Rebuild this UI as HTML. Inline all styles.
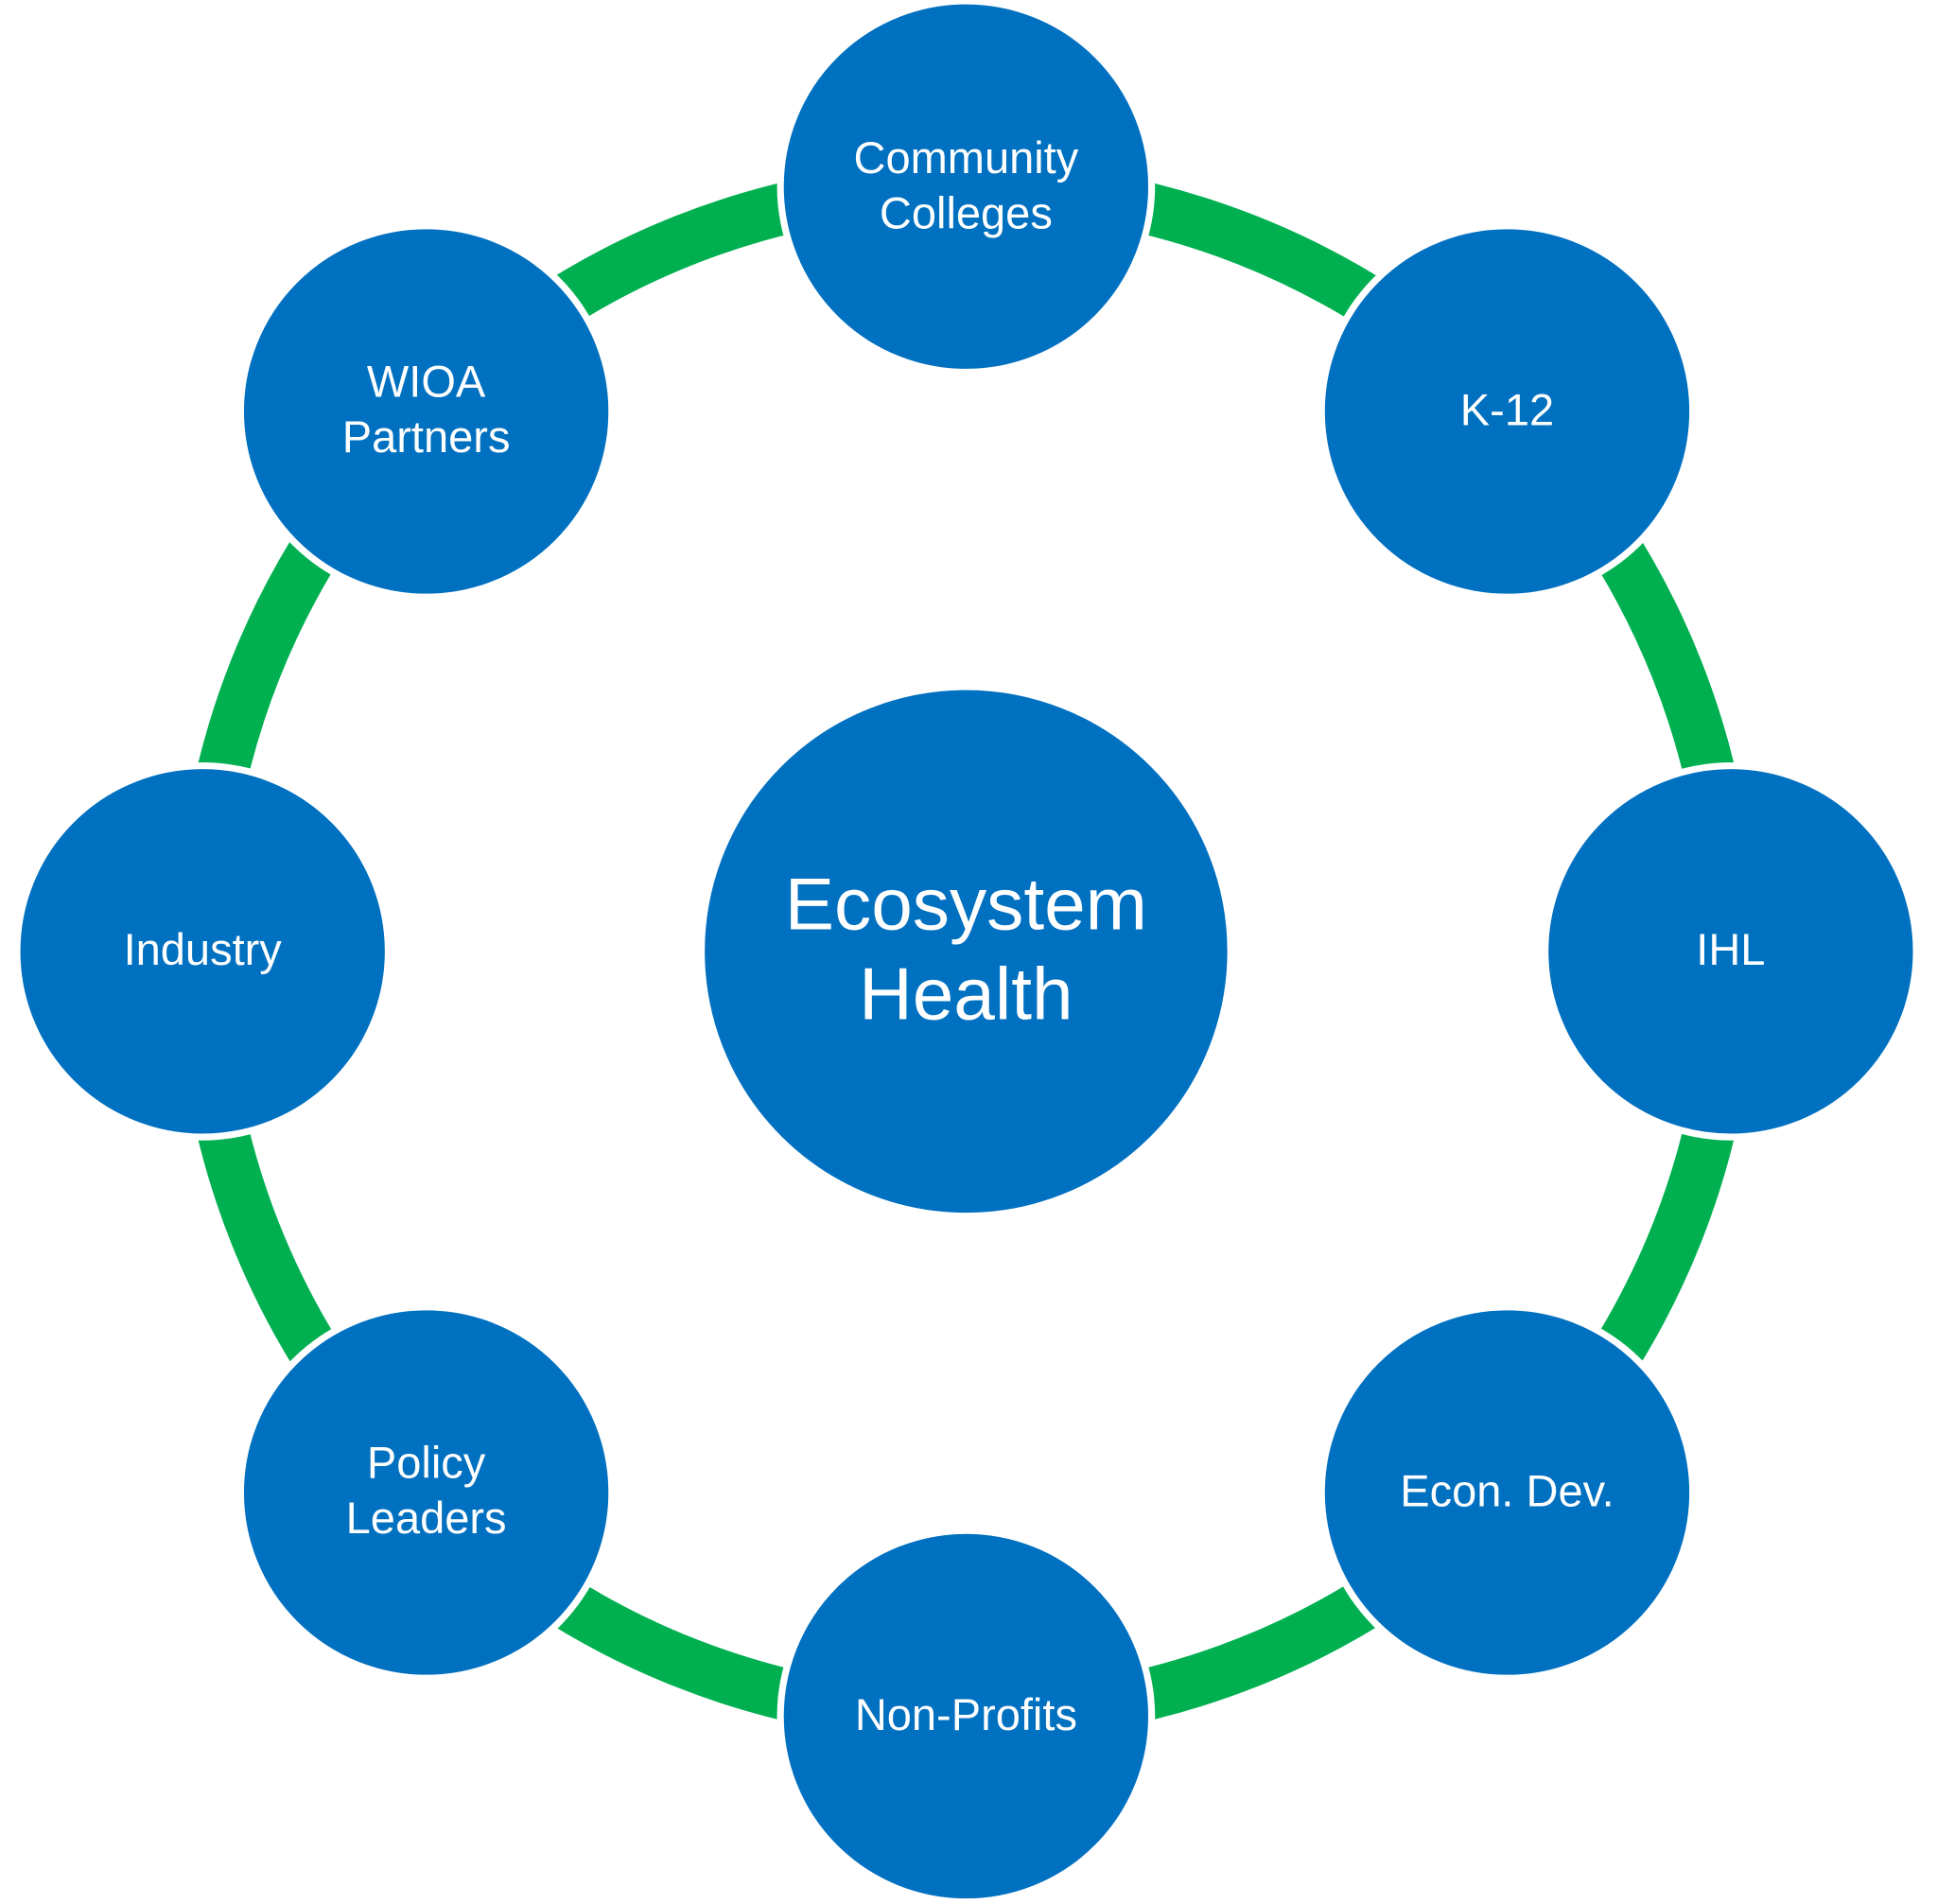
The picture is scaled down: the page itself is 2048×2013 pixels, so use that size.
<!DOCTYPE html>
<html><head><meta charset="utf-8"><style>
html,body{margin:0;padding:0;background:#fff;}
svg{display:block;}
text{font-family:"Liberation Sans",sans-serif;fill:#fff;text-anchor:middle;}
</style></head><body>
<svg width="2048" height="2013" viewBox="0 0 1568 1541" preserveAspectRatio="none">
<circle cx="782" cy="770" r="619" fill="none" stroke="#00B050" stroke-width="42"/>
<g fill="#fff">
<circle cx="782" cy="151" r="153"/>
<circle cx="1220" cy="333" r="153"/>
<circle cx="1401" cy="770" r="153"/>
<circle cx="1220" cy="1208" r="153"/>
<circle cx="782" cy="1389" r="153"/>
<circle cx="345" cy="1208" r="153"/>
<circle cx="164" cy="770" r="153"/>
<circle cx="345" cy="333" r="153"/>
</g>
<g fill="#0070C0" stroke="#fff" stroke-width="3">
<circle cx="782" cy="770" r="213"/>
<circle cx="782" cy="151" r="149"/>
<circle cx="1220" cy="333" r="149"/>
<circle cx="1401" cy="770" r="149"/>
<circle cx="1220" cy="1208" r="149"/>
<circle cx="782" cy="1389" r="149"/>
<circle cx="345" cy="1208" r="149"/>
<circle cx="164" cy="770" r="149"/>
<circle cx="345" cy="333" r="149"/>
</g>
<g font-size="36">
<text x="782" y="140">Community</text>
<text x="782" y="185">Colleges</text>
<text x="1220" y="344">K-12</text>
<text x="1401" y="781">IHL</text>
<text x="1220" y="1219">Econ. Dev.</text>
<text x="782" y="1400">Non-Profits</text>
<text x="345" y="1196">Policy</text>
<text x="345" y="1241">Leaders</text>
<text x="164" y="781">Industry</text>
<text x="345" y="321">WIOA</text>
<text x="345" y="366">Partners</text>
</g>
<text x="782" y="752" font-size="60">Ecosystem</text>
<text x="782" y="825" font-size="60">Health</text>
</svg>
</body></html>
